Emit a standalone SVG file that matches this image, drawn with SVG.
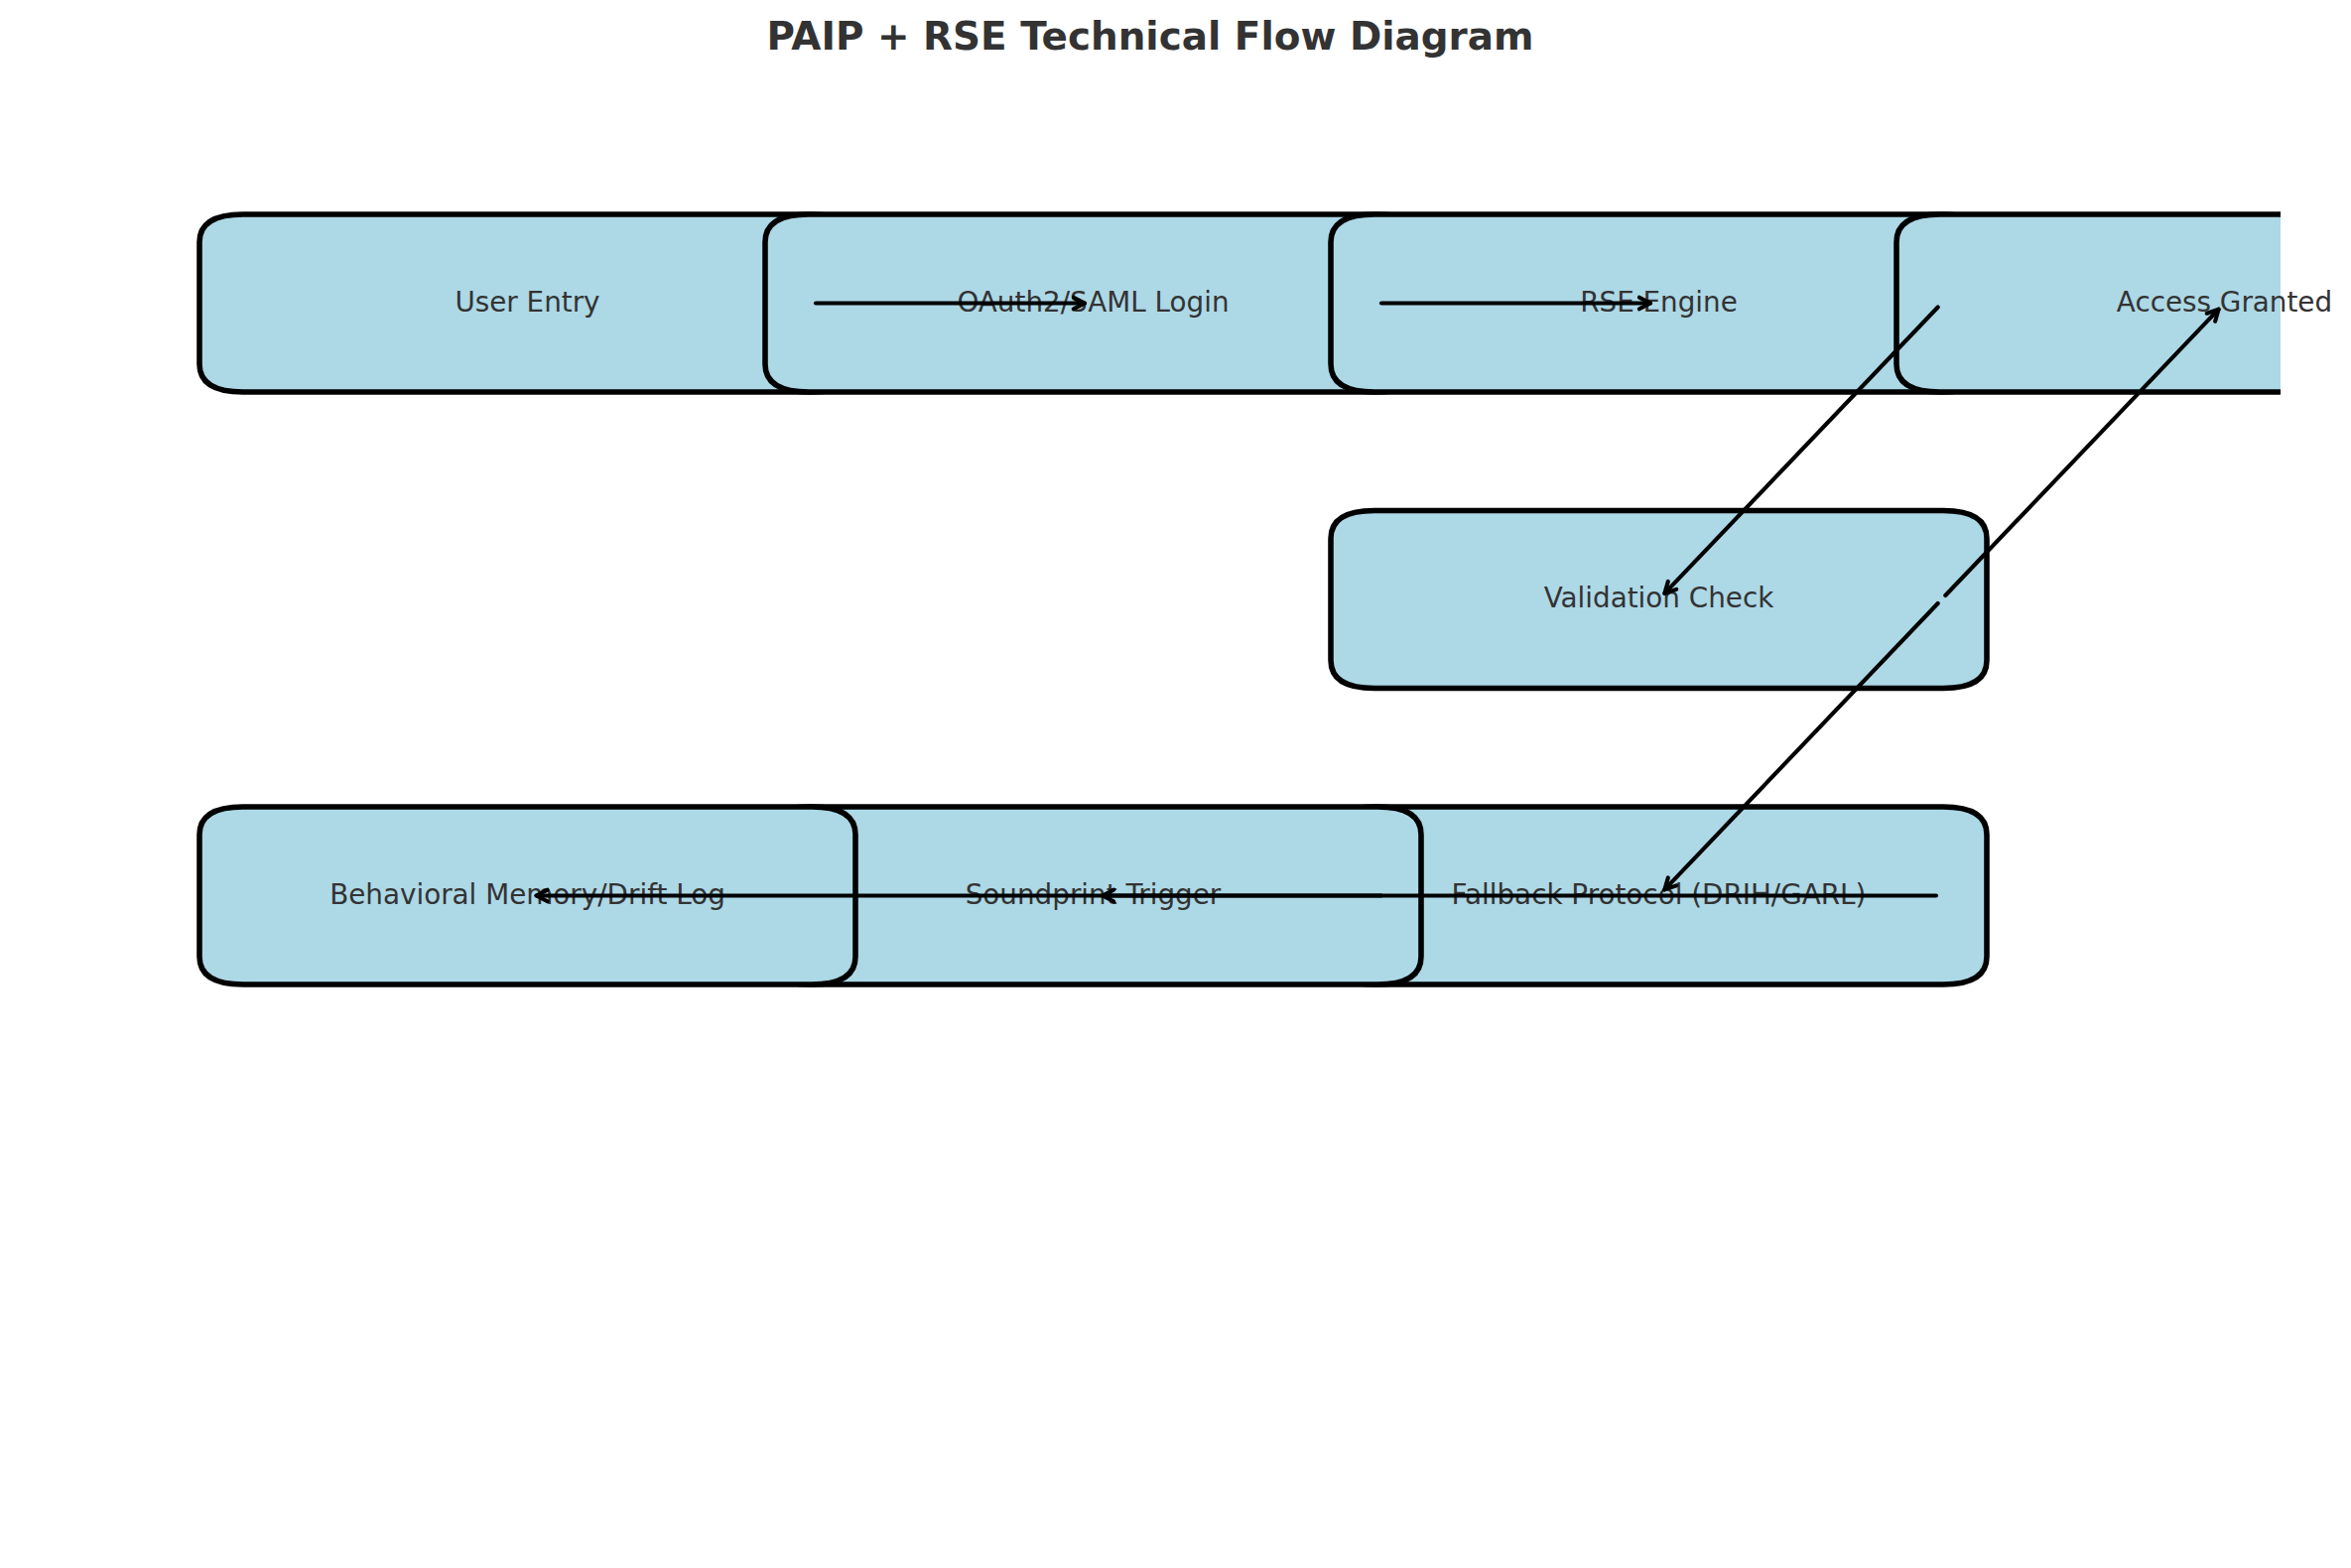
<svg xmlns="http://www.w3.org/2000/svg" width="2369" height="1580" viewBox="0 0 2369 1580">
<style>
.box{fill:#ADD8E6;stroke:#000;stroke-width:5.56;stroke-linejoin:round}
.lbl{font-family:"DejaVu Sans","Liberation Sans",sans-serif;font-size:27.8px;fill:#333333;text-anchor:middle}
.title{font-family:"DejaVu Sans","Liberation Sans",sans-serif;font-size:38.9px;font-weight:bold;fill:#333333;text-anchor:middle}
.arr{fill:none;stroke:#000;stroke-width:4.1;stroke-linecap:round;stroke-linejoin:round;marker-end:url(#head)}
</style>
<defs>
<marker id="head" markerUnits="userSpaceOnUse" viewBox="-15 -10 18 20" markerWidth="18" markerHeight="20" refX="0" refY="0" orient="auto" overflow="visible">
<path d="M -11.1 -5.8 L 0 0 L -11.1 5.8" fill="none" stroke="#000" stroke-width="4.1" stroke-linecap="round" stroke-linejoin="round"/>
</marker>
<clipPath id="axclip"><rect x="0" y="0" width="2298" height="1580"/></clipPath>
</defs>
<rect x="0" y="0" width="2369" height="1580" fill="#ffffff"/>
<text class="title" x="1159" y="50">PAIP + RSE Technical Flow Diagram</text>

<g id="node-user-entry">
<path class="box" d="M245,216 H818 Q862,216 862,244 V367 Q862,395 818,395 H245 Q201,395 201,367 V244 Q201,216 245,216 Z"/>
<text class="lbl" x="531.5" y="313.8">User Entry</text>
</g>
<g id="node-oauth">
<path class="box" d="M815,216 H1388 Q1432,216 1432,244 V367 Q1432,395 1388,395 H815 Q771,395 771,367 V244 Q771,216 815,216 Z"/>
<text class="lbl" x="1101.5" y="313.8">OAuth2/SAML Login</text>
</g>
<g id="node-rse-engine">
<path class="box" d="M1385,216 H1958 Q2002,216 2002,244 V367 Q2002,395 1958,395 H1385 Q1341,395 1341,367 V244 Q1341,216 1385,216 Z"/>
<text class="lbl" x="1671.5" y="313.8">RSE Engine</text>
</g>
<g id="node-access-granted">
<path class="box" clip-path="url(#axclip)" d="M1955,216 H2528 Q2572,216 2572,244 V367 Q2572,395 2528,395 H1955 Q1911,395 1911,367 V244 Q1911,216 1955,216 Z"/>
<text class="lbl" x="2241.5" y="313.8">Access Granted</text>
</g>
<g id="node-validation">
<path class="box" d="M1385,514.5 H1958 Q2002,514.5 2002,542.5 V665.5 Q2002,693.5 1958,693.5 H1385 Q1341,693.5 1341,665.5 V542.5 Q1341,514.5 1385,514.5 Z"/>
<text class="lbl" x="1671.5" y="612.3">Validation Check</text>
</g>
<g id="node-fallback">
<path class="box" d="M1385,813 H1958 Q2002,813 2002,841 V964 Q2002,992 1958,992 H1385 Q1341,992 1341,964 V841 Q1341,813 1385,813 Z"/>
<text class="lbl" x="1671.5" y="910.8">Fallback Protocol (DRIH/GARL)</text>
</g>
<g id="node-soundprint">
<path class="box" d="M815,813 H1388 Q1432,813 1432,841 V964 Q1432,992 1388,992 H815 Q771,992 771,964 V841 Q771,813 815,813 Z"/>
<text class="lbl" x="1101.5" y="910.8">Soundprint Trigger</text>
</g>
<g id="node-behavioral">
<path class="box" d="M245,813 H818 Q862,813 862,841 V964 Q862,992 818,992 H245 Q201,992 201,964 V841 Q201,813 245,813 Z"/>
<text class="lbl" x="531.5" y="910.8">Behavioral Memory/Drift Log</text>
</g>

<g id="connectors">
<path class="arr" d="M822,305.5 L1093,305.5"/>
<path class="arr" d="M1392,305.5 L1663,305.5"/>
<path class="arr" d="M1952.7,309.5 L1677.4,597.9"/>
<path class="arr" d="M1960.3,600 L2235.6,311.7"/>
<path class="arr" d="M1952.7,608 L1677.4,896.4"/>
<path class="arr" d="M1951,902.5 L1111,902.5"/>
<path class="arr" d="M1392,902.5 L540.5,902.5"/>
</g>
</svg>
